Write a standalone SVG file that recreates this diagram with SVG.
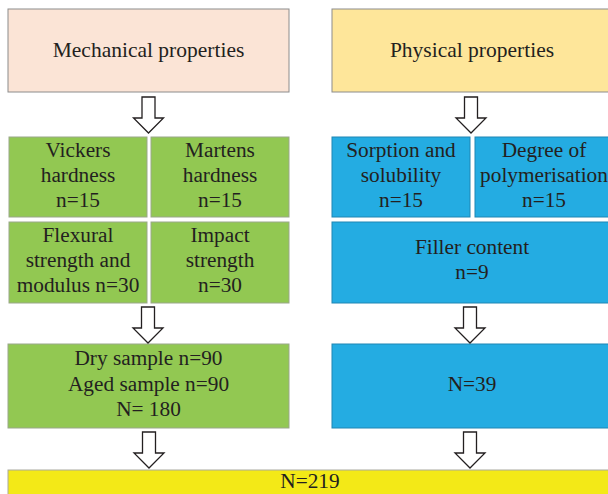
<svg xmlns="http://www.w3.org/2000/svg" xmlns:xlink="http://www.w3.org/1999/xlink" width="608" height="494" viewBox="0 0 608 494">
<defs>
<style>
text{font-family:"Liberation Serif","Times New Roman",serif;font-size:21.3px;fill:#231f20;text-anchor:middle}
.big{font-size:21.5px}
.pink{fill:#fbe4d6;stroke:#8c8c8c;stroke-width:1}
.ytop{fill:#fee69a;stroke:#8c8c8c;stroke-width:1}
.green{fill:#92c852;stroke:#9aa78a;stroke-width:1}
.blue{fill:#24ace2;stroke:#1f86b4;stroke-width:1}
.ybot{fill:#f3e917;stroke:#a9a9a0;stroke-width:1}
.arrow{fill:#ffffff;stroke:#231f20;stroke-width:1.3;stroke-linejoin:miter}
</style>
<path id="arr" d="M-6.5,0 H6.5 V21 H15 L0,36 L-15,21 H-6.5 Z"/>
</defs>
<rect width="608" height="494" fill="#ffffff"/>

<g id="mechanical">
<rect class="pink" x="8" y="9" width="281" height="83"/>
<text class="big" x="148.5" y="57">Mechanical properties</text>
</g>
<g id="physical">
<rect class="ytop" x="332" y="9" width="282" height="83"/>
<text class="big" x="472" y="57">Physical properties</text>
</g>

<g id="vickers">
<rect class="green" x="9" y="137" width="138" height="80"/>
<text x="78" y="157">Vickers</text>
<text x="78" y="182">hardness</text>
<text x="78" y="207">n=15</text>
</g>
<g id="martens">
<rect class="green" x="151" y="137" width="138" height="80"/>
<text x="220" y="157">Martens</text>
<text x="220" y="182">hardness</text>
<text x="220" y="207">n=15</text>
</g>
<g id="flexural">
<rect class="green" x="9" y="222" width="138" height="81"/>
<text x="78" y="242">Flexural</text>
<text x="78" y="267">strength and</text>
<text x="78" y="292">modulus n=30</text>
</g>
<g id="impact">
<rect class="green" x="151" y="222" width="138" height="81"/>
<text x="220" y="242">Impact</text>
<text x="220" y="267">strength</text>
<text x="220" y="292">n=30</text>
</g>

<g id="sorption">
<rect class="blue" x="332" y="137" width="138" height="80"/>
<text x="401" y="157">Sorption and</text>
<text x="401" y="182">solubility</text>
<text x="401" y="207">n=15</text>
</g>
<g id="degree">
<rect class="blue" x="475" y="137" width="139" height="80"/>
<text x="544" y="157">Degree of</text>
<text x="544" y="182">polymerisation</text>
<text x="544" y="207">n=15</text>
</g>
<g id="filler">
<rect class="blue" x="332" y="222" width="282" height="81"/>
<text x="472" y="254">Filler content</text>
<text x="472" y="279">n=9</text>
</g>

<g id="dry">
<rect class="green" x="8" y="344" width="281" height="84"/>
<text x="148.5" y="365">Dry sample n=90</text>
<text x="148.5" y="391">Aged sample n=90</text>
<text x="148.5" y="416">N= 180</text>
</g>
<g id="n39">
<rect class="blue" x="332" y="344" width="282" height="84"/>
<text x="472" y="391">N=39</text>
</g>

<g id="total">
<rect class="ybot" x="8" y="470" width="606" height="30"/>
<text x="310" y="488">N=219</text>
</g>

<g id="connectors">
<use xlink:href="#arr" class="arrow" transform="translate(148.5,97)"/>
<use xlink:href="#arr" class="arrow" transform="translate(471,97)"/>
<use xlink:href="#arr" class="arrow" transform="translate(148,307)"/>
<use xlink:href="#arr" class="arrow" transform="translate(470,307)"/>
<use xlink:href="#arr" class="arrow" transform="translate(149,432)"/>
<use xlink:href="#arr" class="arrow" transform="translate(470,432)"/>
</g>
</svg>
